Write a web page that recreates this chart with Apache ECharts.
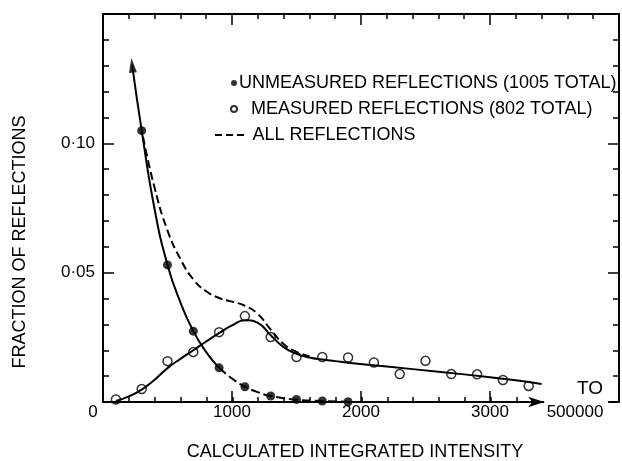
<!DOCTYPE html>
<html>
<head>
<meta charset="utf-8">
<script src="https://cdn.jsdelivr.net/npm/echarts@6/dist/echarts.min.js"></script>
<style>
html,body{margin:0;padding:0;background:#fff;}
#chart{width:622px;height:461px;}
</style>
</head>
<body>
<div id="chart"></div>
<script>
// ---- data ----
const xTickValues = [0, 1000, 2000, 3000];
const xTickLabels = ['0', '1000', '2000', '3000'];
const yTickValues = [0.05, 0.10];
const yTickLabels = ['0·05', '0·10'];

const unmeasuredX = [300, 500, 700, 900, 1100, 1300, 1500, 1700, 1900];
const unmeasuredY = [0.1049, 0.0530, 0.0274, 0.0132, 0.0059, 0.0023, 0.0010, 0.0004, 0.0001];

const measuredX = [100, 300, 500, 700, 900, 1100, 1300, 1500, 1700, 1900, 2100, 2300, 2500, 2700, 2900, 3100, 3300];
const measuredY = [0.0010, 0.0050, 0.0158, 0.0193, 0.0270, 0.0332, 0.0251, 0.0174, 0.0174, 0.0172, 0.0153, 0.0108, 0.0159, 0.0108, 0.0107, 0.0085, 0.0062];

// fitted curves
const unmeasuredFitSolid = [[226, 0.1302], [300, 0.1049], [400, 0.0745], [500, 0.0530], [600, 0.0385], [700, 0.0274], [800, 0.0193], [900, 0.0132]];
const unmeasuredFitTail = [[900, 0.0132], [1000, 0.0091], [1100, 0.0059], [1200, 0.0038], [1300, 0.0023], [1500, 0.0009], [1700, 0.0004], [1900, 0.0001]];
const measuredFit = [[100, 0.0004], [200, 0.0022], [300, 0.0048], [400, 0.0086], [500, 0.0131], [600, 0.0167], [700, 0.0200], [800, 0.0234], [900, 0.0266], [1000, 0.0296], [1100, 0.0316], [1200, 0.0306], [1300, 0.0258], [1400, 0.0212], [1500, 0.0186], [1600, 0.0172], [1700, 0.0164], [1800, 0.0158], [1900, 0.0152], [2200, 0.0137], [2600, 0.0117], [3000, 0.0096], [3200, 0.0084], [3400, 0.0070]];
const allFit = [[310, 0.1025], [400, 0.0828], [500, 0.0663], [600, 0.0553], [700, 0.0474], [800, 0.0428], [900, 0.0402], [1000, 0.0388], [1100, 0.0372], [1200, 0.0340], [1300, 0.0280], [1400, 0.0224], [1500, 0.0194], [1600, 0.0177]];
const arrowTip = [[226, 0.1302]];
const xAxisArrowEnd = 3420;

const nameUnmeasured = 'UNMEASURED REFLECTIONS (1005 TOTAL)';
const nameMeasured = 'MEASURED REFLECTIONS (802 TOTAL)';
const nameAll = 'ALL REFLECTIONS';

// ---- chart ----
const FONT = '"Liberation Sans", Arial, Helvetica, sans-serif';
const chart = echarts.init(document.getElementById('chart'), null, {renderer: 'canvas'});

function zip(xs, ys) { return xs.map((x, i) => [x, ys[i]]); }
function yLabel(v) {
  for (let i = 0; i < yTickValues.length; i++) if (Math.abs(v - yTickValues[i]) < 1e-9) return yTickLabels[i];
  return '';
}
function xLabel(v) {
  for (let i = 0; i < xTickValues.length; i++) if (Math.abs(v - xTickValues[i]) < 1e-9) return v === 0 ? '{o|' + xTickLabels[i] + '}' : xTickLabels[i];
  return '';
}

const black = '#000';
const dashIcon = 'path://M0,0L7,0L7,2L0,2Z M11,0L18,0L18,2L11,2Z M22,0L29,0L29,2L22,2Z';
const option = {
  backgroundColor: '#fff',
  animation: false,
  textStyle: {fontFamily: FONT, color: black},
  grid: [
    {left: 103, right: 2, top: 14, bottom: 59},
    {left: 103, right: 105.4, top: 14, bottom: 59}
  ],
  xAxis: [
    { // bottom, main
      type: 'value', gridIndex: 0, min: 0, max: 4000, interval: 1000, position: 'bottom',
      axisLine: {show: false},
      axisTick: {show: true, inside: true, length: 11, lineStyle: {color: black, width: 1.5}},
      minorTick: {show: false},
      splitLine: {show: false},
      axisLabel: {show: true, margin: 2, color: black, fontSize: 17, fontFamily: FONT, formatter: xLabel,
        rich: {o: {fontSize: 17, fontFamily: FONT, color: black, padding: [0, 20, 0, 0]}}}
    },
    { // top
      type: 'value', gridIndex: 0, min: 0, max: 4000, interval: 1000, position: 'top',
      axisLine: {show: true, onZero: false, lineStyle: {color: black, width: 2}},
      axisTick: {show: true, inside: true, length: 11, lineStyle: {color: black, width: 1.5}},
      minorTick: {show: true, splitNumber: 5, length: 5, lineStyle: {color: black, width: 1.5}},
      splitLine: {show: false},
      axisLabel: {show: false}
    },
    { // bottom minor ticks, up to 3200
      type: 'value', gridIndex: 1, min: 0, max: 3200, interval: 200, position: 'bottom',
      axisLine: {show: false},
      axisTick: {show: true, inside: true, length: 5, lineStyle: {color: black, width: 1.5}},
      splitLine: {show: false},
      axisLabel: {show: false}
    }
  ],
  yAxis: [
    {
      type: 'value', gridIndex: 0, min: 0, max: 0.15, interval: 0.05, position: 'left',
      axisLine: {show: true, onZero: false, lineStyle: {color: black, width: 2}},
      axisTick: {show: true, inside: true, length: 11, lineStyle: {color: black, width: 1.5}},
      minorTick: {show: true, splitNumber: 5, length: 6, lineStyle: {color: black, width: 1.5}},
      splitLine: {show: false},
      axisLabel: {show: true, margin: 8, color: black, fontSize: 17, fontFamily: FONT, formatter: yLabel}
    },
    {
      type: 'value', gridIndex: 0, min: 0, max: 0.15, interval: 0.05, position: 'right',
      axisLine: {show: true, onZero: false, lineStyle: {color: black, width: 2}},
      axisTick: {show: true, inside: true, length: 11, lineStyle: {color: black, width: 1.5}},
      minorTick: {show: true, splitNumber: 5, length: 6, lineStyle: {color: black, width: 1.5}},
      splitLine: {show: false},
      axisLabel: {show: false}
    },
    {
      type: 'value', gridIndex: 1, min: 0, max: 0.15, show: false
    }
  ],
  legend: [
    {
      data: [nameUnmeasured], left: 226, top: 69, itemWidth: 6, itemHeight: 6, selectedMode: false,
      textStyle: {fontSize: 18, fontFamily: FONT, color: black, padding: [0, 0, 0, -3]}
    },
    {
      data: [nameMeasured], left: 225, top: 95, itemWidth: 6, itemHeight: 6, selectedMode: false,
      textStyle: {fontSize: 18, fontFamily: FONT, color: black, padding: [0, 0, 0, 9]}
    },
    {
      data: [{name: nameAll, icon: dashIcon}], left: 210, top: 121, itemWidth: 30, itemHeight: 2, selectedMode: false,
      textStyle: {fontSize: 18, fontFamily: FONT, color: black, padding: [0, 0, 0, 3]}
    }
  ],
  graphic: [
    {type: 'text', x: 20, y: 242, rotation: Math.PI / 2,
      style: {text: 'FRACTION OF REFLECTIONS', font: '18px ' + FONT, fill: black, textAlign: 'center', textVerticalAlign: 'middle'}},
    {type: 'text', x: 355, y: 452,
      style: {text: 'CALCULATED INTEGRATED INTENSITY', font: '18px ' + FONT, fill: black, textAlign: 'center', textVerticalAlign: 'middle'}},
    {type: 'text', x: 590, y: 389,
      style: {text: 'TO', font: '19px ' + FONT, fill: black, textAlign: 'center', textVerticalAlign: 'middle'}},
    {type: 'text', x: 575, y: 412,
      style: {text: '500000', font: '17px ' + FONT, fill: black, textAlign: 'center', textVerticalAlign: 'middle'}}
  ],
  series: [
    {
      name: 'unmeasuredFit', type: 'line', xAxisIndex: 0, yAxisIndex: 0, data: unmeasuredFitSolid,
      smooth: 0.5, showSymbol: false, symbol: 'none', silent: true,
      lineStyle: {color: black, width: 2}
    },
    {
      name: 'unmeasuredTail', type: 'line', xAxisIndex: 0, yAxisIndex: 0, data: unmeasuredFitTail,
      smooth: 0.5, showSymbol: false, symbol: 'none', silent: true,
      lineStyle: {color: black, width: 2, type: [9, 4]}
    },
    {
      name: 'measuredFit', type: 'line', xAxisIndex: 0, yAxisIndex: 0, data: measuredFit,
      smooth: 0.5, showSymbol: false, symbol: 'none', silent: true,
      lineStyle: {color: black, width: 2},
      markLine: {
        silent: true, symbol: ['none', 'arrow'], symbolSize: [8, 16], label: {show: false},
        lineStyle: {color: black, width: 2, type: 'solid'},
        data: [
          [{coord: [0, 0]}, {coord: [xAxisArrowEnd, 0]}],
          [{coord: [3920, 0], symbol: 'none'}, {coord: [4000, 0], symbol: 'none'}]
        ]
      }
    },
    {
      name: nameAll, type: 'line', xAxisIndex: 0, yAxisIndex: 0, data: allFit,
      smooth: 0.5, showSymbol: false, symbol: 'none', silent: true,
      itemStyle: {color: black},
      lineStyle: {color: black, width: 2, type: [8, 4]}
    },
    {
      name: 'arrowHead', type: 'scatter', xAxisIndex: 0, yAxisIndex: 0, data: arrowTip,
      symbol: 'triangle', symbolSize: [8, 15], symbolRotate: 6, silent: true,
      itemStyle: {color: black}
    },
    {
      name: nameUnmeasured, type: 'scatter', xAxisIndex: 0, yAxisIndex: 0, data: zip(unmeasuredX, unmeasuredY),
      symbol: 'circle', symbolSize: 9, silent: true,
      itemStyle: {color: black}
    },
    {
      name: nameMeasured, type: 'scatter', xAxisIndex: 0, yAxisIndex: 0, data: zip(measuredX, measuredY),
      symbol: 'circle', symbolSize: 9, silent: true,
      itemStyle: {color: '#fff', borderColor: black, borderWidth: 1.5}
    }
  ]
};
chart.setOption(option);
</script>
</body>
</html>
